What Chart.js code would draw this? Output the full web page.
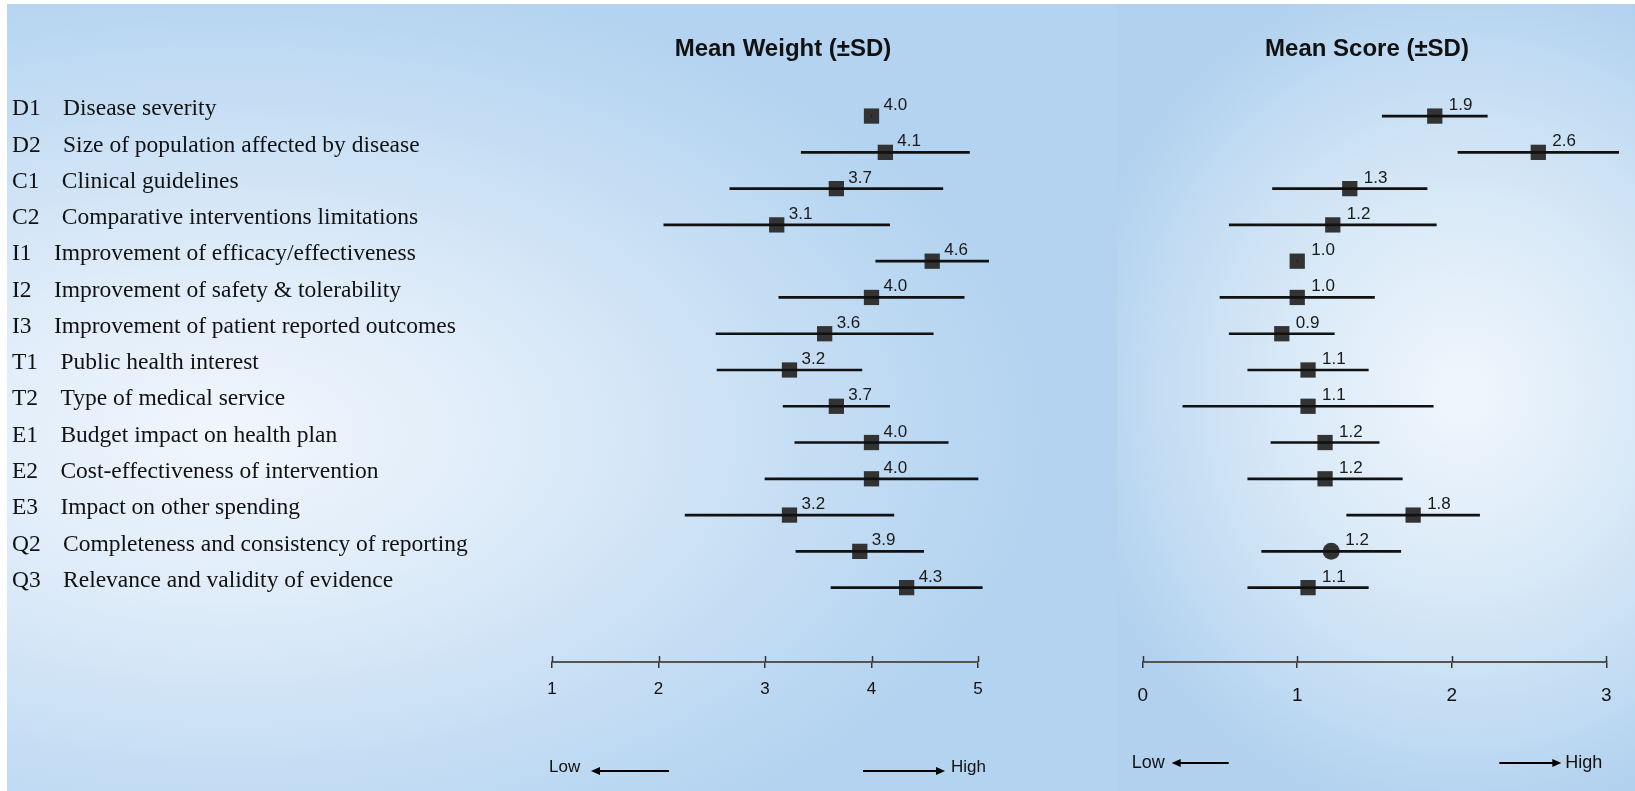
<!DOCTYPE html>
<html>
<head>
<meta charset="utf-8">
<script src="https://cdn.jsdelivr.net/npm/chart.js@4.4.0/dist/chart.umd.min.js"></script>
<style>
  html, body { margin: 0; padding: 0; background: #fff; }
  body { width: 1635px; height: 791px; position: relative; overflow: hidden; }
  .panel { position: absolute; top: 4px; height: 787px; }
  #leftPanel {
    left: 7px; width: 1110px;
    background: radial-gradient(ellipse 820px 470px at 220px 430px, #f0f6fd 0%, #dfecf9 35%, #c6def4 70%, #b3d3f0 100%);
  }
  #rightPanel {
    left: 1117px; width: 518px;
    background: radial-gradient(ellipse 400px 430px at 345px 390px, #f0f6fd 0%, #dcebf8 40%, #c4ddf3 75%, #b1d1ef 100%);
  }
  canvas { position: absolute; top: 0; }
  #weightChart { left: 0; }
  #scoreChart { left: 1117px; }
</style>
</head>
<body>
<div class="panel" id="leftPanel"></div>
<div class="panel" id="rightPanel"></div>
<canvas id="weightChart" width="1117" height="791"></canvas>
<canvas id="scoreChart" width="518" height="791"></canvas>
<script>
// criteria shown on the rows
var criteria = ['D1', 'D2', 'C1', 'C2', 'I1', 'I2', 'I3', 'T1', 'T2', 'E1', 'E2', 'E3', 'Q2', 'Q3'];
var criteriaNames = [
    'Disease severity',
    'Size of population affected by disease',
    'Clinical guidelines',
    'Comparative interventions limitations',
    'Improvement of efficacy/effectiveness',
    'Improvement of safety & tolerability',
    'Improvement of patient reported outcomes',
    'Public health interest',
    'Type of medical service',
    'Budget impact on health plan',
    'Cost-effectiveness of intervention',
    'Impact on other spending',
    'Completeness and consistency of reporting',
    'Relevance and validity of evidence'
];

// Mean Weight (±SD)
var weightMean = [4.00, 4.13, 3.67, 3.11, 4.57, 4.00, 3.56, 3.23, 3.67, 4.00, 4.00, 3.23, 3.89, 4.33];
var weightSD   = [0.00, 0.79, 1.00, 1.06, 0.53, 0.87, 1.02, 0.68, 0.50, 0.72, 1.00, 0.98, 0.60, 0.71];
var weightTicks = [1, 2, 3, 4, 5];

// Mean Score (±SD)
var scoreMean = [1.89, 2.56, 1.34, 1.23, 1.00, 1.00, 0.90, 1.07, 1.07, 1.18, 1.18, 1.75, 1.22, 1.07];
var scoreSD   = [0.34, 0.52, 0.50, 0.67, 0.00, 0.50, 0.34, 0.39, 0.81, 0.35, 0.50, 0.43, 0.45, 0.39];
var scoreTicks = [0, 1, 2, 3];

var sans = '"Liberation Sans", Arial, sans-serif';

function fmt(v) {
    return (Math.round(v * 10) / 10).toFixed(1);
}

function drawArrow(ctx, x1, x2, y) {
    var dir = x2 > x1 ? 1 : -1;
    ctx.beginPath();
    ctx.moveTo(x1, y);
    ctx.lineTo(x2 - dir * 6, y);
    ctx.stroke();
    ctx.beginPath();
    ctx.moveTo(x2, y);
    ctx.lineTo(x2 - dir * 9, y - 4);
    ctx.lineTo(x2 - dir * 9, y + 4);
    ctx.closePath();
    ctx.fill();
}

// titles, value labels, tick marks above the axis, Low/High arrows
var panelDecor = {
    id: 'panelDecor',
    afterDraw: function (chart, args, o) {
        var ctx = chart.ctx;
        var area = chart.chartArea;
        ctx.save();

        ctx.fillStyle = '#111';
        ctx.font = 'bold 24px ' + sans;
        ctx.textAlign = 'center';
        ctx.textBaseline = 'alphabetic';
        ctx.fillText(o.title, o.titleX, 56);

        ctx.font = '17px ' + sans;
        ctx.textAlign = 'left';
        ctx.fillStyle = '#1a1a1a';
        var pts = chart.getDatasetMeta(1).data;
        var ds = chart.data.datasets[1].data;
        pts.forEach(function (p, i) {
            ctx.fillText(fmt(ds[i].x), p.x + o.labelDx, p.y - 6);
        });

        var xs = chart.scales.x;
        ctx.strokeStyle = '#333';
        ctx.lineWidth = 1.5;
        xs.ticks.forEach(function (t) {
            var px = Math.round(xs.getPixelForValue(t.value)) + 0.5;
            ctx.beginPath();
            ctx.moveTo(px, area.bottom);
            ctx.lineTo(px, area.bottom - 6);
            ctx.stroke();
        });

        var a = o.arrows;
        ctx.strokeStyle = '#000';
        ctx.fillStyle = '#000';
        ctx.lineWidth = 2;
        drawArrow(ctx, area.left + a.lowTail, area.left + a.lowTip, a.y);
        drawArrow(ctx, area.right - a.highTail, area.right - a.highTip, a.y);
        ctx.fillStyle = '#111';
        ctx.font = a.font + 'px ' + sans;
        ctx.textAlign = 'left';
        ctx.fillText('Low', area.left + a.lowText, a.textY);
        ctx.fillText('High', area.right - a.highText, a.textY);

        ctx.restore();
    }
};

function makeChart(canvasId, means, sds, ticks, cfg) {
    var ctx = document.getElementById(canvasId).getContext('2d');
    var bars = criteria.map(function (c, i) {
        return { x: [means[i] - sds[i], means[i] + sds[i]], y: i };
    });
    var points = criteria.map(function (c, i) {
        return { x: means[i], y: i };
    });
    return new Chart(ctx, {
        type: 'bar',
        data: {
            datasets: [
                {
                    type: 'bar',
                    data: bars,
                    backgroundColor: '#111',
                    borderWidth: 0,
                    barThickness: 2,
                    clip: false
                },
                {
                    type: 'scatter',
                    data: points,
                    pointStyle: function (c) { return criteria[c.dataIndex] === cfg.circleRow ? 'circle' : 'rect'; },
                    pointRadius: function (c) { return criteria[c.dataIndex] === cfg.circleRow ? 8.5 : 10.8; },
                    pointHoverRadius: 10.8,
                    backgroundColor: '#333',
                    borderWidth: 0,
                    clip: false
                }
            ]
        },
        options: {
            responsive: false,
            animation: false,
            indexAxis: 'y',
            layout: { padding: cfg.padding },
            plugins: {
                legend: { display: false },
                tooltip: { enabled: false },
                panelDecor: cfg.decor
            },
            scales: {
                x: {
                    type: 'linear',
                    min: ticks[0],
                    max: ticks[ticks.length - 1],
                    offset: false,
                    afterBuildTicks: function (s) { s.ticks = ticks.map(function (v) { return { value: v }; }); },
                    afterFit: function (s) { s.height = 40; },
                    grid: { display: true, drawOnChartArea: false, drawTicks: true, tickLength: 6, color: '#333', lineWidth: 1.5 },
                    border: { display: true, color: '#555', width: 2 },
                    ticks: {
                        font: { family: sans, size: cfg.tickFont },
                        color: '#111',
                        padding: cfg.tickPad,
                        maxRotation: 0
                    }
                },
                y: {
                    type: 'linear',
                    reverse: true,
                    offset: false,
                    min: -0.57,
                    max: 15.05,
                    display: cfg.showLabels,
                    afterFit: function (s) { s.width = cfg.labelWidth; },
                    grid: { display: false, offset: false },
                    border: { display: false },
                    ticks: {
                        stepSize: 1,
                        autoSkip: false,
                        includeBounds: false,
                        crossAlign: 'far',
                        padding: 0,
                        labelOffset: -7,
                        color: '#111',
                        font: { family: '"Liberation Serif", "Times New Roman", serif', size: 23.5 },
                        callback: function (v) {
                            if (Number.isInteger(v) && v >= 0 && v < criteria.length) {
                                return criteria[v] + '   \u2009' + criteriaNames[v];
                            }
                            return '';
                        }
                    }
                }
            }
        },
        plugins: [panelDecor]
    });
}

makeChart('weightChart', weightMean, weightSD, weightTicks, {
    padding: { left: 12, right: 139, top: 95.4, bottom: 89 },
    labelWidth: 540,
    showLabels: true,
    tickFont: 17,
    tickPad: 11,
    circleRow: null,
    decor: {
        title: 'Mean Weight (\u00b1SD)',
        titleX: 783,
        labelDx: 12,
        arrows: { y: 771, textY: 772, font: 17, lowTail: 117, lowTip: 39, lowText: -3, highTail: 115, highTip: 33, highText: 27 }
    }
});

makeChart('scoreChart', scoreMean, scoreSD, scoreTicks, {
    padding: { left: 25.7, right: 28.7, top: 95.4, bottom: 89 },
    labelWidth: 0,
    showLabels: false,
    tickFont: 19,
    tickPad: 16,
    circleRow: 'Q2',
    decor: {
        title: 'Mean Score (\u00b1SD)',
        titleX: 250,
        labelDx: 14,
        arrows: { y: 763, textY: 768, font: 18, lowTail: 86, lowTip: 29, lowText: -11, highTail: 107, highTip: 45, highText: 41 }
    }
});
</script>
</body>
</html>
